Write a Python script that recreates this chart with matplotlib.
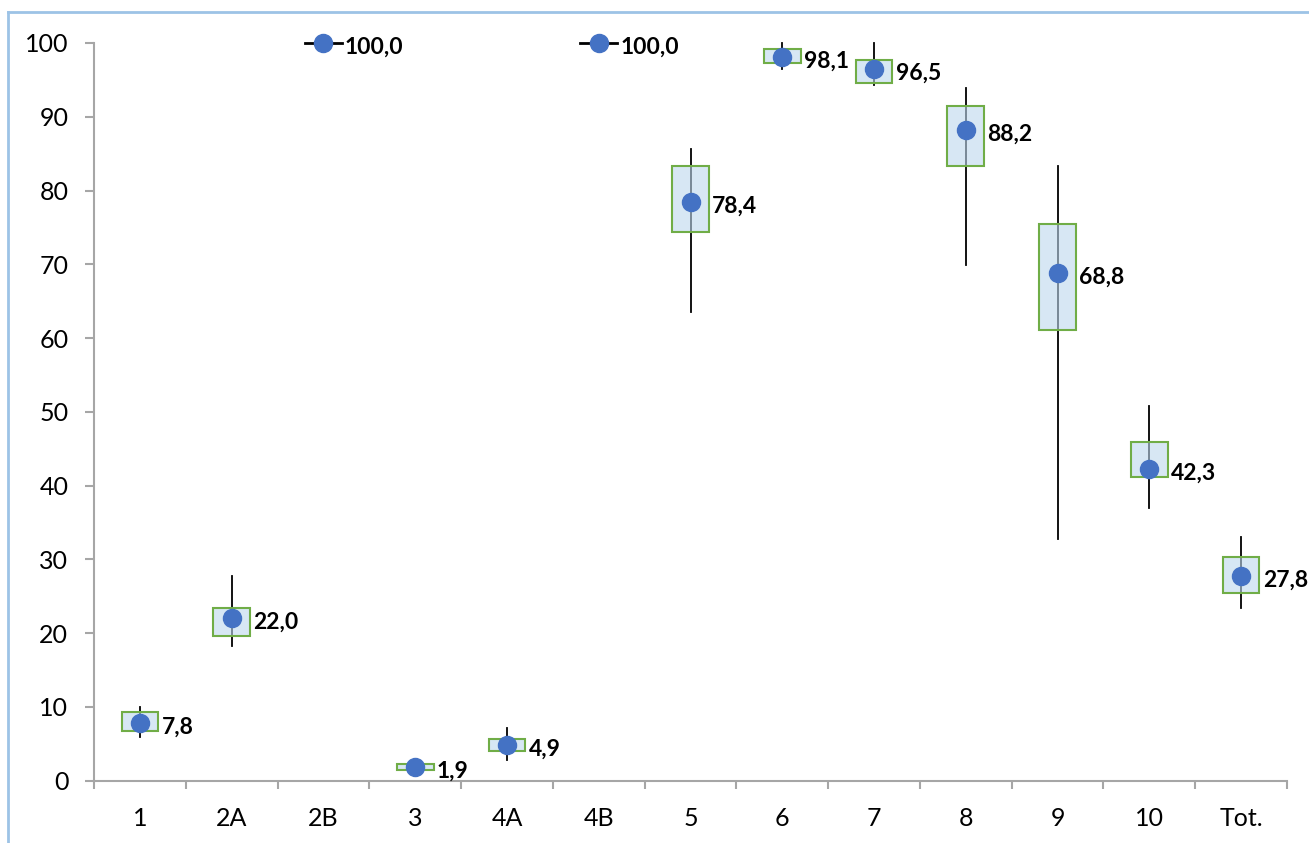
import matplotlib
matplotlib.use("Agg")
import matplotlib.pyplot as plt
from matplotlib.patches import Rectangle
from matplotlib.lines import Line2D

# data
categories = ["1", "2A", "2B", "3", "4A", "4B", "5", "6", "7", "8", "9", "10", "Tot."]
means = [7.8, 22.0, 100.0, 1.9, 4.9, 100.0, 78.4, 98.1, 96.5, 88.2, 68.8, 42.3, 27.8]
mean_labels = ["7,8", "22,0", "100,0", "1,9", "4,9", "100,0", "78,4", "98,1", "96,5",
               "88,2", "68,8", "42,3", "27,8"]
box_low = [6.7, 19.6, 100.0, 1.5, 4.0, 100.0, 74.4, 97.3, 94.6, 83.3, 61.1, 41.2, 25.5]
box_high = [9.3, 23.4, 100.0, 2.2, 5.7, 100.0, 83.3, 99.2, 97.7, 91.5, 75.4, 45.9, 30.3]
whisk_low = [5.9, 18.2, 100.0, 1.5, 2.8, 100.0, 63.5, 96.5, 94.3, 69.9, 32.7, 37.0, 23.4]
whisk_high = [10.0, 27.8, 100.0, 2.2, 7.1, 100.0, 85.6, 100.0, 100.0, 93.9, 83.3, 50.8, 33.1]

plt.rcParams['font.family'] = ['Lato', 'DejaVu Sans']

fig = plt.figure(figsize=(13.09, 8.43), dpi=100)
# light blue chart border (only left and top edges are visible)
bx, by = 8 / 1309, 1 - 12 / 843
fig.add_artist(Line2D([bx, bx], [0, by], transform=fig.transFigure, color='#9DC3E6', lw=2))
fig.add_artist(Line2D([bx, 1], [by, by], transform=fig.transFigure, color='#9DC3E6', lw=2))
ax = fig.add_axes([94 / 1309, 62.3 / 843, (1287 - 94) / 1309, (800 - 62.3) / 843])

box_w = 0.4
x = list(range(len(categories)))
for i in x:
    ax.plot([i, i], [whisk_low[i], whisk_high[i]], color='black', lw=1.3, zorder=2, clip_on=False)
    h = box_high[i] - box_low[i]
    if h > 0:
        ax.add_patch(Rectangle((i - box_w / 2, box_low[i]), box_w, h,
                               facecolor='#BDD7EE', alpha=0.6, edgecolor='none', zorder=3))
        ax.add_patch(Rectangle((i - box_w / 2, box_low[i]), box_w, h,
                               facecolor='none', edgecolor='#70AD47', lw=1.5, zorder=4))
    else:
        ax.plot([i - box_w / 2, i + box_w / 2], [box_low[i]] * 2, color='black', lw=2,
                zorder=4, clip_on=False)

ax.plot(x, means, linestyle='none', marker='o', markersize=13, color='#4472C4', zorder=5,
        clip_on=False)
for i in x:
    ax.annotate(mean_labels[i], (i, means[i]), xytext=(15.5, -3), textcoords='offset points',
                ha='left', va='center', fontsize=16.5, fontweight='bold', color='black',
                annotation_clip=False, zorder=6)

ax.set_xlim(-0.5, len(categories) - 0.5)
ax.set_ylim(0, 100)
ax.set_yticks(range(0, 101, 10))
ax.set_xticks([i for i in x])
ax.set_xticklabels(categories)
ax.set_xticks([i - 0.5 for i in range(len(categories) + 1)], minor=True)
ax.tick_params(axis='x', which='major', length=0, pad=19, labelsize=18)
ax.tick_params(axis='x', which='minor', length=6, width=1.5, color='#A6A6A6', direction='out')
ax.tick_params(axis='y', length=6.5, width=1.5, color='#A6A6A6', pad=12, labelsize=18)
for s in ['top', 'right']:
    ax.spines[s].set_visible(False)
for s in ['left', 'bottom']:
    ax.spines[s].set_color('#A6A6A6')
    ax.spines[s].set_linewidth(1.5)

fig.savefig("out.png", dpi=100)
